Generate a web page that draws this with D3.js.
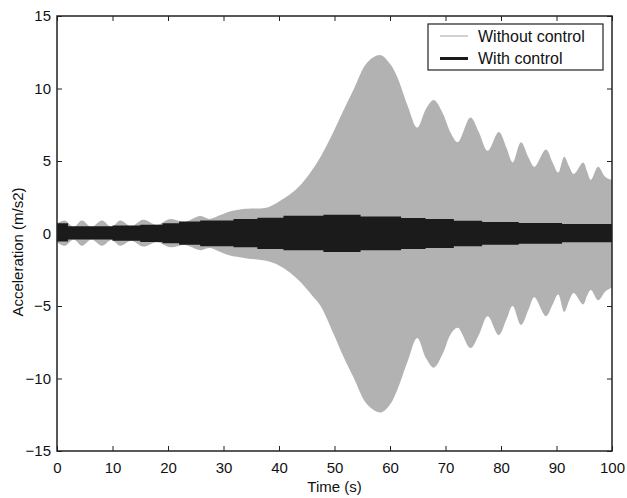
<!DOCTYPE html>
<html>
<head>
<meta charset="utf-8">
<script src="https://cdn.jsdelivr.net/npm/d3@7"></script>
<style>
  body { margin: 0; background: #fff; }
  text { font-family: "Liberation Sans", Arial, sans-serif; fill: #111; }
</style>
</head>
<body>
<svg id="chart" width="627" height="498"></svg>
<script>
// envelope of the uncontrolled response
const grayT = [0, 1.4, 3, 4.5, 6.2, 8.1, 9.8, 11.4, 13.4, 15.5, 18, 20.4, 23, 25.8, 27.5, 29, 31, 34, 37.9, 40, 42, 44, 46, 47.5,
  49.8, 51.5, 53.4, 55.9, 58.3, 60, 61.3, 63.2, 64.9, 66.5, 67.9, 69.5, 71, 72.2, 74.5, 76, 77.6, 79.6, 81, 82.1,
  83.6, 85, 86, 88.1, 89.3, 90.3, 91.4, 92.3, 93.1, 94.8, 95.5, 96.2, 97.5, 98.8, 100];
const grayUpper = [0.7, 0.9, 0.45, 0.9, 0.45, 0.9, 0.45, 0.9, 0.5, 0.95, 0.6, 1.0, 0.8, 1.2, 1.0, 1.2, 1.5, 1.7, 1.8, 2.2, 2.7, 3.4, 4.4, 5.3,
  7.0, 8.4, 9.9, 11.8, 12.3, 11.7, 10.8, 8.8, 7.3, 8.6, 9.2, 8.3, 6.9, 6.3, 8.0, 7.0, 5.7, 7.0, 5.9, 4.9,
  6.3, 5.2, 4.6, 5.8, 4.9, 4.2, 5.3, 4.6, 4.1, 4.9, 4.3, 3.7, 4.6, 3.9, 3.7];
const grayLower = [-0.6, -0.85, -0.42, -0.85, -0.42, -0.85, -0.45, -0.85, -0.5, -0.9, -0.6, -0.95, -0.8, -1.15, -1.0, -1.2, -1.5, -1.7, -1.9, -2.2, -2.7, -3.4, -4.3, -5.0,
  -6.9, -8.4, -9.9, -11.8, -12.35, -11.8, -10.8, -8.8, -7.2, -8.6, -9.25, -8.3, -6.9, -6.5, -7.9, -7.0, -5.7, -7.0, -5.9, -5.0,
  -6.3, -5.2, -4.4, -5.7, -4.9, -4.2, -5.4, -4.6, -4.1, -4.9, -4.3, -3.9, -4.6, -4.0, -3.7];

// envelope of the controlled response (stepwise)
const blackT = [0, 2, 10, 15, 19, 22, 25.8, 31.8, 36.1, 40.8, 48, 54.7, 62, 66.4, 71.5, 76.6, 83.2, 91, 100];
const blackUpper = [0.7, 0.5, 0.55, 0.6, 0.7, 0.83, 0.9, 1.0, 1.08, 1.22, 1.29, 1.17, 1.07, 1.0, 0.88, 0.79, 0.72, 0.66, 0.66];
const blackLower = [-0.55, -0.42, -0.5, -0.58, -0.68, -0.78, -0.88, -0.95, -1.07, -1.15, -1.27, -1.15, -1.07, -1.0, -0.88, -0.77, -0.7, -0.6, -0.6];

const xTicks = [0, 10, 20, 30, 40, 50, 60, 70, 80, 90, 100];
const yTicks = [-15, -10, -5, 0, 5, 10, 15];
const seriesNames = ["Without control", "With control"];

const svg = d3.select("#chart");
const pLeft = 57, pRight = 612, pTop = 16, pBottom = 451;

const x = d3.scaleLinear().domain([0, 100]).range([pLeft, pRight]);
const y = d3.scaleLinear().domain([-15, 15]).range([pBottom, pTop]);

const gray = grayT.map((t, i) => ({ t: t, hi: grayUpper[i], lo: grayLower[i] }));
const black = blackT.map((t, i) => ({ t: t, hi: blackUpper[i], lo: blackLower[i] }));

svg.append("path")
  .datum(gray)
  .attr("fill", "#b2b2b2")
  .attr("d", d3.area().x(d => x(d.t)).y0(d => y(d.lo)).y1(d => y(d.hi)).curve(d3.curveCatmullRom));

svg.append("path")
  .datum(black)
  .attr("fill", "#1b1b1b")
  .attr("d", d3.area().x(d => x(d.t)).y0(d => y(d.lo)).y1(d => y(d.hi)).curve(d3.curveStepAfter));

// axes, ticks inward on all four sides
const ax = (g, axis) => g.call(axis).call(s => s.select(".domain").remove())
  .call(s => s.selectAll("line").attr("stroke", "#222"));

svg.append("g").attr("transform", `translate(0,${pBottom})`)
  .call(g => ax(g, d3.axisBottom(x).tickValues(xTicks).tickSize(-5).tickPadding(11)))
  .selectAll("text").attr("font-size", 15);
svg.append("g").attr("transform", `translate(0,${pTop})`)
  .call(g => ax(g, d3.axisTop(x).tickValues(xTicks).tickSize(-5).tickFormat("")));
svg.append("g").attr("transform", `translate(${pLeft},0)`)
  .call(g => ax(g, d3.axisLeft(y).tickValues(yTicks).tickSize(-5).tickPadding(6)))
  .selectAll("text").attr("font-size", 15);
svg.append("g").attr("transform", `translate(${pRight},0)`)
  .call(g => ax(g, d3.axisRight(y).tickValues(yTicks).tickSize(-5).tickFormat("")));

svg.selectAll(".tick text").attr("fill", "#111").style("font-family", "Liberation Sans, Arial, sans-serif");

svg.append("rect")
  .attr("x", pLeft).attr("y", pTop)
  .attr("width", pRight - pLeft).attr("height", pBottom - pTop)
  .attr("fill", "none").attr("stroke", "#222").attr("stroke-width", 1.5);

svg.append("text").text("Time (s)")
  .attr("x", (pLeft + pRight) / 2).attr("y", 492)
  .attr("text-anchor", "middle").attr("font-size", 15);

svg.append("text").text("Acceleration (m/s2)")
  .attr("transform", "translate(23,252) rotate(-90)")
  .attr("text-anchor", "middle").attr("font-size", 15);

// legend
const lg = svg.append("g").attr("transform", "translate(428,24)");
lg.append("rect").attr("width", 175).attr("height", 46)
  .attr("fill", "#fff").attr("stroke", "#222").attr("stroke-width", 1.2);
const legendStyle = [{ c: "#b2b2b2", w: 1.2 }, { c: "#1b1b1b", w: 3 }];
seriesNames.forEach((name, i) => {
  const yy = 12 + i * 22.5;
  lg.append("line").attr("x1", 12).attr("x2", 40).attr("y1", yy).attr("y2", yy)
    .attr("stroke", legendStyle[i].c).attr("stroke-width", legendStyle[i].w);
  lg.append("text").text(name).attr("x", 50).attr("y", yy + 5.5).attr("font-size", 16);
});
</script>
</body>
</html>
